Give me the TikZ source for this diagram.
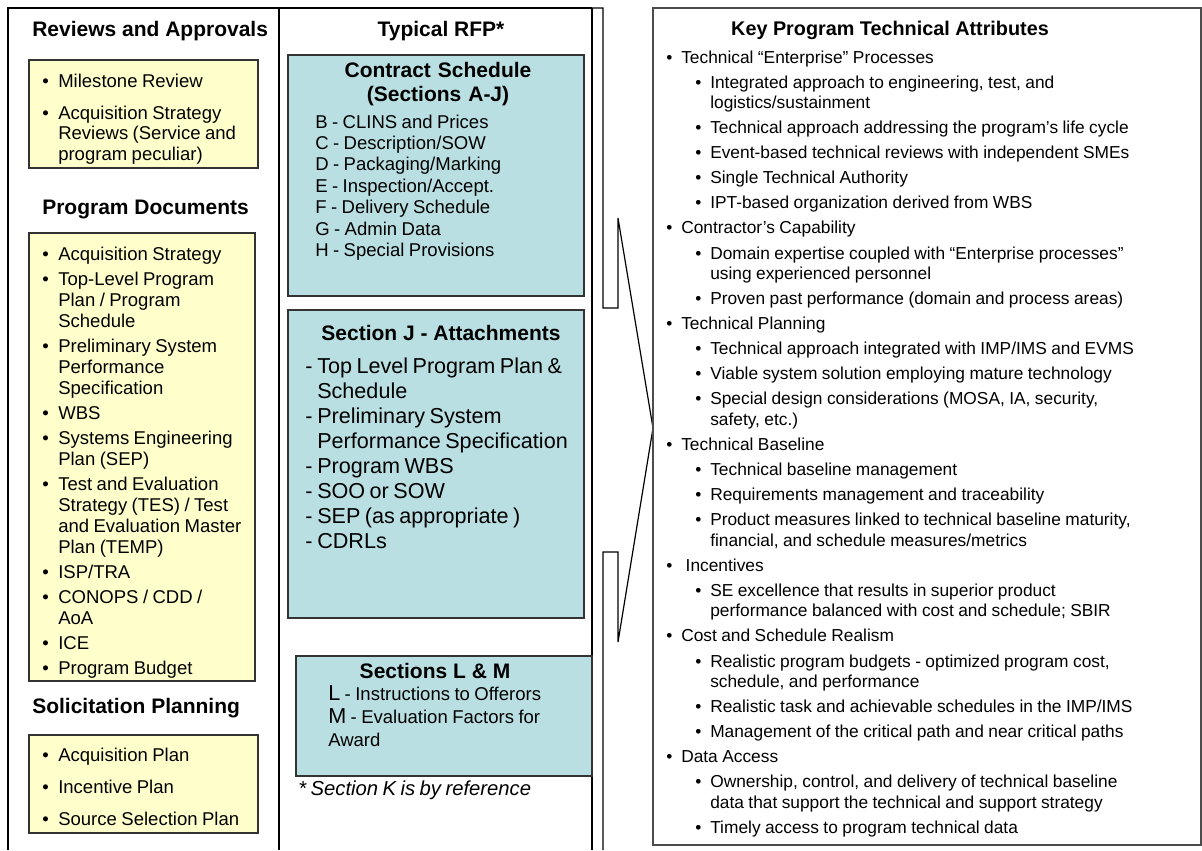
\documentclass[tikz,border=0pt]{standalone}
\usepackage{fontspec}
\setmainfont{Liberation Sans}
\usepackage{tikz}
\usetikzlibrary{positioning}

\definecolor{docyellow}{HTML}{FFFFCC}
\definecolor{rfpblue}{HTML}{B9DFE2}
\newlength\bulw
\newcommand\itm[1]{\hangindent=\bulw\hangafter=1\makebox[\bulw][l]{\textbullet}#1\par}
\newcommand\subitm[1]{{\leftskip=21.75pt\itm{#1}}}
\newcommand\ditm[1]{\hangindent=\bulw\hangafter=1\makebox[\bulw][l]{-}#1\par}
\newcommand\capletter[1]{{\fontsize{16.2}{17}\selectfont #1}}

\begin{document}
\begin{tikzpicture}[x=0.75pt, y=-0.75pt,
    colline/.style={line width=0.9pt, black},
    ybox/.style={draw=black!80, line width=1.1pt, fill=docyellow},
    bbox/.style={draw=black!80, line width=1.1pt, fill=rfpblue},
    head/.style={anchor=base, inner sep=0pt, font=\bfseries\fontsize{15.75}{18}\selectfont},
    lst/.style n args={5}{anchor=base west, inner sep=0pt, align=left, text width=#5,
        execute at begin node={\fontsize{#1}{#2}\selectfont\setlength\parskip{#3}\setlength\bulw{#4}}}]
    \useasboundingbox (0,0) rectangle (1202,850);

    % columns and bracket
    \draw[colline] (8,850) -- (8,8) -- (592,8);
    \draw[colline] (279,8) -- (279,850);
    \draw[colline] (592,8) -- (592,850);
    \coordinate (tip) at (653,428);
    \draw[colline] (592,8) -- (603,8) -- (603,308) -- (618,308) -- (618,218)
        -- (tip) -- (618,642) -- (618,552) -- (603,552) -- (603,850);

    % left column
    \node[head, anchor=base west] (revhead) at (32,36) {Reviews and Approvals};
    \draw[ybox] (29,60) rectangle (258,168);
    \node[lst={13.9}{15.4}{8.6pt}{12pt}{165pt}] (revlist) at (42,87) {%
        \itm{Milestone Review}
        \itm{Acquisition Strategy\newline Reviews (Service and\newline program peculiar)}};

    \node[head, anchor=base west] (dochead) at (42,214) {Program Documents};
    \draw[ybox] (29,233) rectangle (255,681);
    \node[lst={13.9}{15.75}{3pt}{12pt}{165pt}] (doclist) at (42,260) {%
        \itm{Acquisition Strategy}
        \itm{Top-Level Program\newline Plan / Program\newline Schedule}
        \itm{Preliminary System\newline Performance\newline Specification}
        \itm{WBS}
        \itm{Systems Engineering\newline Plan (SEP)}
        \itm{Test and Evaluation\newline Strategy (TES) / Test\newline and Evaluation Master\newline Plan (TEMP)}
        \itm{ISP/TRA}
        \itm{CONOPS / CDD /\newline AoA}
        \itm{ICE}
        \itm{Program Budget}};

    \node[head, anchor=base west] (solhead) at (32,713) {Solicitation Planning};
    \draw[ybox] (29,735) rectangle (258,833);
    \node[lst={13.9}{15.75}{8.25pt}{12pt}{165pt}] (sollist) at (42,761) {%
        \itm{Acquisition Plan}
        \itm{Incentive Plan}
        \itm{Source Selection Plan}};

    % middle column
    \node[head] (rfphead) at (441,36) {Typical RFP*};
    \draw[bbox] (288,55) rectangle (584,296);
    \node[head, text width=200pt, align=center] (schedhead) at (438,77) {Contract Schedule\\(Sections A-J)};
    \node[lst={13.9}{16.1}{0pt}{0pt}{200pt}] (schedlist) at (315,128) {%
        B - CLINS and Prices\newline
        C - Description/SOW\newline
        D - Packaging/Marking\newline
        E - Inspection/Accept.\newline
        F - Delivery Schedule\newline
        G - Admin Data\newline
        H - Special Provisions};

    \draw[bbox] (288,310) rectangle (584,618);
    \node[head] (atthead) at (441,340) {Section J - Attachments};
    \node[lst={16.2}{18.75}{0pt}{9pt}{215pt}] (attlist) at (305,373) {%
        \ditm{Top Level Program Plan \&\newline Schedule}
        \ditm{Preliminary System\newline Performance Specification}
        \ditm{Program WBS}
        \ditm{SOO or SOW}
        \ditm{SEP (as appropriate )}
        \ditm{CDRLs}};

    \draw[bbox] (296,656) rectangle (592,776);
    \node[head] (lmhead) at (435,678) {Sections L \& M};
    \node[lst={13.9}{17.25}{0pt}{0pt}{190pt}] (lmlist) at (328,700) {%
        \capletter{L} - Instructions to Offerors\newline
        \capletter{M} - Evaluation Factors for\newline
        Award};
    \node[lst={15.2}{17}{0pt}{0pt}{200pt}, font=\itshape] (knote) at (298,795) {* Section K is by reference};

    % right box
    \draw[draw=black!70, line width=1.5pt] (653,8) rectangle (1201,845);
    \node[head, font=\bfseries\fontsize{14.85}{17}\selectfont] (keyhead) at (890,35) {Key Program Technical Attributes};
    \node[lst={13}{15.4}{3.4pt}{11.25pt}{400pt}] (keylist) at (666,63) {%
        \itm{Technical “Enterprise” Processes}
        \subitm{Integrated approach to engineering, test, and\newline logistics/sustainment}
        \subitm{Technical approach addressing the program’s life cycle}
        \subitm{Event-based technical reviews with independent SMEs}
        \subitm{Single Technical Authority}
        \subitm{IPT-based organization derived from WBS}
        \itm{Contractor’s Capability}
        \subitm{Domain expertise coupled with “Enterprise processes”\newline using experienced personnel}
        \subitm{Proven past performance (domain and process areas)}
        \itm{Technical Planning}
        \subitm{Technical approach integrated with IMP/IMS and EVMS}
        \subitm{Viable system solution employing mature technology}
        \subitm{Special design considerations (MOSA, IA, security,\newline safety, etc.)}
        \itm{Technical Baseline}
        \subitm{Technical baseline management}
        \subitm{Requirements management and traceability}
        \subitm{Product measures linked to technical baseline maturity,\newline financial, and schedule measures/metrics}
        \itm{\ Incentives}
        \subitm{SE excellence that results in superior product\newline performance balanced with cost and schedule; SBIR}
        \itm{Cost and Schedule Realism}
        \subitm{Realistic program budgets - optimized program cost,\newline schedule, and performance}
        \subitm{Realistic task and achievable schedules in the IMP/IMS}
        \subitm{Management of the critical path and near critical paths}
        \itm{Data Access}
        \subitm{Ownership, control, and delivery of technical baseline\newline data that support the technical and support strategy}
        \subitm{Timely access to program technical data}};
\end{tikzpicture}
\end{document}
